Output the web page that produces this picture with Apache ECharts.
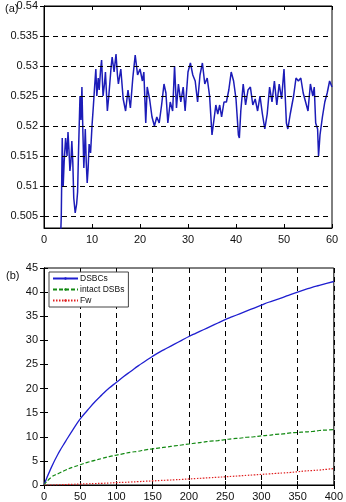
<!DOCTYPE html>
<html>
<head>
<meta charset="utf-8">
<script src="https://cdn.jsdelivr.net/npm/echarts@6/dist/echarts.min.js"></script>
<style>
  html, body { margin: 0; padding: 0; background: #fff; }
  #main { width: 346px; height: 502px; }
</style>
</head>
<body>
<div id="main"></div>
<script>
// panel (a): time (x) and value (y)
var timeA = [3.5, 3.6, 3.8, 4.0, 4.2, 4.5, 4.8, 5.0, 5.2, 5.4, 5.6, 5.8, 6.0, 6.2, 6.5, 6.8, 7.0, 7.2, 7.5, 7.7, 7.9, 8.1, 8.3, 8.5, 8.6, 8.8, 9.0, 9.2, 9.4, 9.7, 10.0, 10.3, 10.5, 10.8, 11.0, 11.3, 11.5, 11.8, 12.0, 12.3, 12.6, 12.8, 13.2, 13.5, 13.7, 14.0, 14.2, 14.6, 15.0, 15.3, 15.5, 16.0, 16.5, 17.0, 17.5, 18.0, 18.5, 19.0, 19.5, 20.0, 20.5, 20.8, 21.2, 21.5, 22.0, 22.5, 23.0, 23.5, 24.0, 24.5, 25.0, 25.4, 25.8, 26.3, 26.8, 27.2, 27.6, 28.0, 28.5, 29.0, 29.4, 30.0, 30.5, 31.0, 31.5, 32.0, 32.5, 33.0, 33.5, 34.0, 34.5, 35.0, 35.4, 35.8, 36.2, 36.6, 37.0, 37.5, 38.0, 38.5, 39.0, 39.5, 40.0, 40.5, 40.7, 41.0, 41.5, 42.0, 42.5, 43.0, 43.5, 44.0, 44.5, 45.0, 45.5, 46.0, 46.5, 47.0, 47.5, 48.0, 48.5, 49.0, 49.5, 50.0, 50.5, 50.8, 51.3, 52.0, 52.5, 53.0, 53.5, 54.0, 54.5, 55.0, 55.5, 56.0, 56.3, 56.6, 57.0, 57.2, 57.5, 58.0, 58.5, 59.0, 59.5, 60.0];
var valueA = [0.5025, 0.505, 0.518, 0.510, 0.514, 0.518, 0.515, 0.519, 0.516, 0.5125, 0.514, 0.5175, 0.514, 0.508, 0.5055, 0.507, 0.509, 0.516, 0.525, 0.521, 0.5265, 0.519, 0.513, 0.517, 0.5195, 0.514, 0.5105, 0.513, 0.517, 0.5155, 0.520, 0.5235, 0.526, 0.5295, 0.525, 0.528, 0.526, 0.5295, 0.531, 0.525, 0.527, 0.529, 0.5225, 0.525, 0.527, 0.530, 0.5315, 0.529, 0.532, 0.5285, 0.527, 0.5295, 0.5245, 0.5225, 0.526, 0.523, 0.528, 0.5318, 0.5285, 0.5295, 0.5275, 0.529, 0.5205, 0.5265, 0.5245, 0.5215, 0.520, 0.5215, 0.5205, 0.5235, 0.527, 0.5255, 0.5205, 0.524, 0.5225, 0.530, 0.523, 0.527, 0.524, 0.5265, 0.5225, 0.529, 0.5305, 0.5285, 0.5275, 0.524, 0.5285, 0.5305, 0.527, 0.528, 0.525, 0.5185, 0.521, 0.5235, 0.522, 0.5235, 0.5215, 0.524, 0.524, 0.526, 0.529, 0.5275, 0.5245, 0.5185, 0.518, 0.5225, 0.527, 0.5235, 0.526, 0.5265, 0.5235, 0.5245, 0.5225, 0.525, 0.522, 0.5195, 0.522, 0.5265, 0.524, 0.5275, 0.5235, 0.527, 0.5245, 0.5295, 0.5205, 0.5195, 0.522, 0.525, 0.528, 0.5275, 0.528, 0.5255, 0.524, 0.5225, 0.527, 0.525, 0.5265, 0.5205, 0.5195, 0.515, 0.5185, 0.5215, 0.524, 0.5255, 0.5275, 0.5265];
var ticksA = [0.505, 0.51, 0.515, 0.52, 0.525, 0.53, 0.535, 0.54];

// panel (b): dose (x) and three curves
var doseB = [0, 10, 20, 30, 40, 50, 60, 70, 80, 90, 100, 110, 120, 130, 140, 150, 160, 170, 180, 190, 200, 210, 220, 230, 240, 250, 260, 270, 280, 290, 300, 310, 320, 330, 340, 350, 360, 370, 380, 390, 400];
var dsbcs = [0, 3.6, 6.6, 9.1, 11.5, 13.7, 15.5, 17.2, 18.7, 20.1, 21.3, 22.5, 23.6, 24.7, 25.7, 26.7, 27.6, 28.4, 29.2, 30.0, 30.8, 31.5, 32.2, 32.9, 33.6, 34.3, 34.9, 35.5, 36.1, 36.7, 37.3, 37.9, 38.4, 38.9, 39.5, 40.0, 40.5, 41.0, 41.4, 41.8, 42.2];
var intactDsbs = [0, 1.6, 2.4, 3.1, 3.7, 4.2, 4.7, 5.1, 5.5, 5.9, 6.2, 6.5, 6.8, 7.0, 7.3, 7.5, 7.7, 7.9, 8.1, 8.3, 8.5, 8.7, 8.9, 9.1, 9.2, 9.4, 9.6, 9.7, 9.9, 10.0, 10.2, 10.3, 10.5, 10.6, 10.8, 10.9, 11.0, 11.1, 11.3, 11.4, 11.5];
var fw = [0, 0, 0.05, 0.1, 0.15, 0.2, 0.25, 0.3, 0.35, 0.4, 0.5, 0.55, 0.62, 0.7, 0.78, 0.85, 0.93, 1.0, 1.08, 1.16, 1.25, 1.34, 1.43, 1.52, 1.61, 1.7, 1.8, 1.9, 2.0, 2.1, 2.2, 2.3, 2.4, 2.5, 2.6, 2.75, 2.9, 3.0, 3.1, 3.25, 3.4];

function pairs(xs, ys) {
    return xs.map(function (x, i) { return [x, ys[i]]; });
}

var font = 'Liberation Sans, Arial, sans-serif';
var lbl = { color: '#111', fontSize: 11, fontFamily: font };
var dash = { color: '#000', type: [5, 4], width: 1 };

// ticks pointing inside, like MATLAB
function baseAxis(extra) {
    var a = {
        axisLine: { show: true, lineStyle: { color: '#000', width: 1 } },
        axisTick: { show: true, inside: true, length: 4, lineStyle: { color: '#000' } },
        axisLabel: Object.assign({ margin: 6 }, lbl),
        splitLine: { show: false }
    };
    return Object.assign(a, extra);
}
function mirror(a, pos) {
    var m = JSON.parse(JSON.stringify(a));
    m.position = pos;
    m.axisLabel.show = false;
    m.splitLine = { show: false };
    return m;
}

var xA = baseAxis({ gridIndex: 0, type: 'value', min: 0, max: 60, interval: 10 });
var yA = baseAxis({ gridIndex: 0, type: 'value', min: 0.503, max: 0.54 });
yA.axisLabel.customValues = ticksA;
yA.axisTick.customValues = ticksA;

var xB = baseAxis({ gridIndex: 1, type: 'value', min: 0, max: 400, interval: 50,
    splitLine: { show: true, lineStyle: dash } });
var yB = baseAxis({ gridIndex: 1, type: 'value', min: 0, max: 45, interval: 5 });

var option = {
    animation: false,
    title: [
        { text: '(a)', left: 0, top: -2, textStyle: { fontSize: 11, fontWeight: 'normal', fontFamily: font, color: '#111' } },
        { text: '(b)', left: 1, top: 265, textStyle: { fontSize: 11, fontWeight: 'normal', fontFamily: font, color: '#111' } }
    ],
    grid: [
        { left: 44, top: 6, right: 14, height: 222, show: true, borderColor: '#000', borderWidth: 1 },
        { left: 44, top: 268, right: 10, height: 220, show: true, borderColor: '#000', borderWidth: 1 }
    ],
    legend: {
        left: 49, top: 272, orient: 'vertical',
        data: ['DSBCs', 'intact DSBs', 'Fw'],
        borderColor: '#444', borderWidth: 1, backgroundColor: '#fff',
        padding: [1, 4, 1, 3], itemGap: 0, itemWidth: 25, itemHeight: 3,
        textStyle: { fontSize: 8.5, fontFamily: font, color: '#111', lineHeight: 11, padding: [0, 0, 0, -3] }
    },
    xAxis: [xA, mirror(xA, 'top'), xB, mirror(xB, 'top')],
    yAxis: [yA, mirror(yA, 'right'), yB, mirror(yB, 'right')],
    series: [
        {
            type: 'line', xAxisIndex: 0, yAxisIndex: 0,
            data: pairs(timeA, valueA),
            showSymbol: false, symbol: 'none',
            lineStyle: { color: '#1c1cb8', width: 1.5 },
            markLine: {
                silent: true, symbol: 'none', label: { show: false },
                precision: 4,
                lineStyle: dash,
                data: ticksA.slice(0, 7).map(function (v) { return { yAxis: v }; })
            },
            z: 3
        },
        {
            name: 'DSBCs', type: 'line', xAxisIndex: 2, yAxisIndex: 2,
            data: pairs(doseB, dsbcs), smooth: true,
            showSymbol: false, symbol: 'none',
            itemStyle: { color: '#1f1fd0' },
            lineStyle: { color: '#1f1fd0', width: 1.3 }
        },
        {
            name: 'intact DSBs', type: 'line', xAxisIndex: 2, yAxisIndex: 2,
            data: pairs(doseB, intactDsbs), smooth: true,
            showSymbol: false, symbol: 'circle', symbolSize: 3,
            itemStyle: { color: '#138a13' },
            lineStyle: { color: '#138a13', width: 1.2, type: [4, 2] }
        },
        {
            name: 'Fw', type: 'line', xAxisIndex: 2, yAxisIndex: 2,
            data: pairs(doseB, fw), smooth: true,
            showSymbol: false, symbol: 'circle', symbolSize: 3,
            itemStyle: { color: '#e02020' },
            lineStyle: { color: '#e02020', width: 1.2, type: [1.5, 1.5] }
        }
    ]
};

var chart = echarts.init(document.getElementById('main'));
chart.setOption(option);
</script>
</body>
</html>
